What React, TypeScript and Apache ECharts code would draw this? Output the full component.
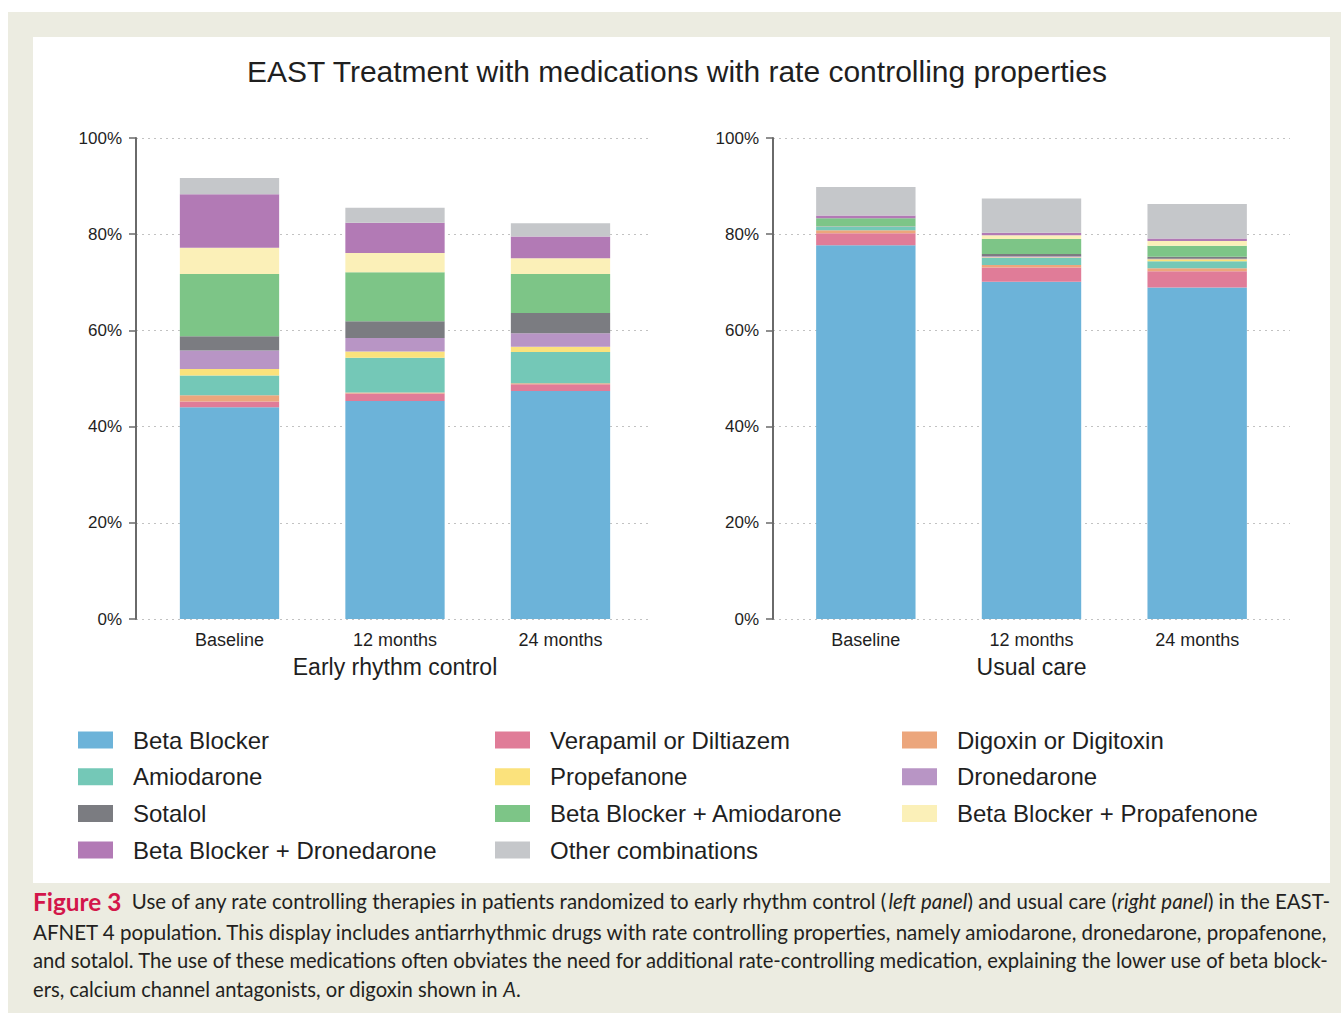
import React, { useEffect, useRef } from "react";
import * as echarts from "echarts";

// ---- Data -----------------------------------------------------------------
const categories = ["Baseline", "12 months", "24 months"];
const panelNames = ["Early rhythm control", "Usual care"];
const yTicks = [0, 20, 40, 60, 80, 100];

const medications = [
  "Beta Blocker",
  "Verapamil or Diltiazem",
  "Digoxin or Digitoxin",
  "Amiodarone",
  "Propefanone",
  "Dronedarone",
  "Sotalol",
  "Beta Blocker + Amiodarone",
  "Beta Blocker + Propafenone",
  "Beta Blocker + Dronedarone",
  "Other combinations",
];

// Early rhythm control, % of patients (Baseline, 12 months, 24 months)
const erBetaBlocker = [44.0, 45.3, 47.4];
const erVerapamil = [1.2, 1.6, 1.4];
const erDigoxin = [1.3, 0.2, 0.2];
const erAmiodarone = [4.1, 7.2, 6.5];
const erPropafenone = [1.4, 1.3, 1.1];
const erDronedarone = [3.8, 2.8, 2.8];
const erSotalol = [3.0, 3.5, 4.2];
const erBBAmiodarone = [12.9, 10.2, 8.1];
const erBBPropafenone = [5.5, 4.0, 3.3];
const erBBDronedarone = [11.1, 6.3, 4.5];
const erOther = [3.4, 3.1, 2.8];

// Usual care, % of patients (Baseline, 12 months, 24 months)
const ucBetaBlocker = [77.7, 70.1, 68.9];
const ucVerapamil = [2.5, 3.0, 3.4];
const ucDigoxin = [0.6, 0.5, 0.6];
const ucAmiodarone = [0.7, 1.5, 1.5];
const ucPropafenone = [0.0, 0.1, 0.4];
const ucDronedarone = [0.1, 0.2, 0.1];
const ucSotalol = [0.0, 0.5, 0.4];
const ucBBAmiodarone = [1.7, 3.1, 2.3];
const ucBBPropafenone = [0.0, 0.8, 1.0];
const ucBBDronedarone = [0.6, 0.5, 0.5];
const ucOther = [5.9, 7.1, 7.2];

const earlyValues = [
  erBetaBlocker, erVerapamil, erDigoxin, erAmiodarone, erPropafenone, erDronedarone,
  erSotalol, erBBAmiodarone, erBBPropafenone, erBBDronedarone, erOther,
];
const usualValues = [
  ucBetaBlocker, ucVerapamil, ucDigoxin, ucAmiodarone, ucPropafenone, ucDronedarone,
  ucSotalol, ucBBAmiodarone, ucBBPropafenone, ucBBDronedarone, ucOther,
];

const medColors = [
  "#6cb3d9", "#e07c98", "#eca67c", "#74c8b7", "#fbe27c", "#b895c5",
  "#7b7c81", "#7dc587", "#fbf0b8", "#b27ab5", "#c5c7ca",
];

// Legend columns (indices into medications)
const legendColumns = [
  [0, 3, 6, 9],
  [1, 4, 7, 10],
  [2, 5, 8],
];

const chartTitle = "EAST Treatment with medications with rate controlling properties";

type Seg = { t: string; s: "fig" | "n" | "i" };
const captionLines: Seg[][] = [
  [
    { t: "Figure 3", s: "fig" },
    { t: "  Use of any rate controlling therapies in patients randomized to early rhythm control (", s: "n" },
    { t: "left panel", s: "i" },
    { t: ") and usual care (", s: "n" },
    { t: "right panel", s: "i" },
    { t: ") in the EAST-", s: "n" },
  ],
  [{ t: "AFNET 4 population. This display includes antiarrhythmic drugs with rate controlling properties, namely amiodarone, dronedarone, propafenone,", s: "n" }],
  [{ t: "and sotalol. The use of these medications often obviates the need for additional rate-controlling medication, explaining the lower use of beta block-", s: "n" }],
  [
    { t: "ers, calcium channel antagonists, or digoxin shown in ", s: "n" },
    { t: "A", s: "i" },
    { t: ".", s: "n" },
  ],
];

// ---- Styling helpers --------------------------------------------------------
const SANS = "Liberation Sans, Arial, sans-serif";
const INK = "#1f1f1f";
const CAPTION_FONT = "Lato";
const captionRich: Record<string, any> = {
  fig: { fontFamily: CAPTION_FONT, fontWeight: "bold", fontSize: 25, fill: "#d3164a" },
  n: { fontFamily: CAPTION_FONT, fontWeight: "normal", fontSize: 21, fill: "#231f20" },
  i: { fontFamily: CAPTION_FONT, fontWeight: "normal", fontStyle: "italic", fontSize: 21, fill: "#231f20" },
};

function measureLine(line: Seg[]): number {
  const ctx = document.createElement("canvas").getContext("2d");
  if (!ctx) return 1;
  let w = 0;
  for (const seg of line) {
    const r = captionRich[seg.s];
    ctx.font = `${r.fontStyle || "normal"} ${r.fontWeight} ${r.fontSize}px ${r.fontFamily}`;
    w += ctx.measureText(seg.t).width;
  }
  return w;
}

function buildCaption(): any[] {
  const left = 33;
  const right = 1330;
  const ys = [901, 931, 960, 989];
  const target = right - left;
  const scales = captionLines.map((l) => target / measureLine(l));
  return captionLines.map((line, k) => {
    const last = k === captionLines.length - 1;
    const sx = last ? Math.min(scales[1], scales[2]) : scales[k];
    return {
      type: "text",
      x: left,
      y: ys[k],
      scaleX: sx,
      style: {
        text: line.map((seg) => `{${seg.s}|${seg.t}}`).join(""),
        rich: captionRich,
        verticalAlign: "middle",
        align: "left",
      },
    };
  });
}

function buildOption(): echarts.EChartsCoreOption {
  const barGrids = [
    { left: 146.75, top: 138, width: 496.5, height: 481 },
    { left: 783, top: 138, width: 497, height: 481 },
  ];
  const lineGrids = [
    { left: 136, top: 138, width: 516, height: 481 },
    { left: 773, top: 138, width: 517, height: 481 },
  ];
  const offsets = [10.75, 10];

  const xAxis: any[] = [0, 1].map((p) => ({
    type: "category",
    gridIndex: p,
    data: categories,
    axisLine: { show: false },
    axisTick: { show: false },
    axisLabel: { margin: 12, fontSize: 18, color: INK, fontFamily: SANS },
    name: panelNames[p],
    nameLocation: "middle",
    nameGap: 36,
    nameTextStyle: { fontSize: 23, color: INK, fontFamily: SANS },
  }));
  [2, 3].forEach((g) => xAxis.push({ type: "value", gridIndex: g, show: false, min: 0, max: 1 }));

  const yAxis: any[] = [0, 1].map((p) => ({
    type: "value",
    gridIndex: p,
    min: yTicks[0],
    max: yTicks[yTicks.length - 1],
    interval: 20,
    offset: offsets[p],
    axisLine: { show: true, lineStyle: { color: "#6a6a6a", width: 2 } },
    axisTick: { show: true, length: 7, lineStyle: { color: "#6a6a6a", width: 1.5 } },
    axisLabel: { formatter: "{value}%", margin: 14, fontSize: 17, color: INK, fontFamily: SANS },
    splitLine: { show: false },
  }));
  [2, 3].forEach((g) =>
    yAxis.push({
      type: "value",
      gridIndex: g,
      min: yTicks[0],
      max: yTicks[yTicks.length - 1],
      interval: 20,
      axisLine: { show: false },
      axisTick: { show: false },
      axisLabel: { show: false },
      splitLine: { show: true, lineStyle: { type: [2, 4], color: "#c2c2c2", width: 1.2 } },
    })
  );

  const series: any[] = [];
  [earlyValues, usualValues].forEach((panel, p) => {
    panel.forEach((vals, i) => {
      series.push({
        name: medications[i],
        type: "bar",
        stack: p === 0 ? "early" : "usual",
        xAxisIndex: p,
        yAxisIndex: p,
        barWidth: "60%",
        data: vals,
        itemStyle: { color: medColors[i] },
      });
    });
  });

  const legendX = [73, 490, 897];
  const legend = legendColumns.map((col, c) => ({
    orient: "vertical",
    left: legendX[c],
    top: 723,
    itemWidth: 35,
    itemHeight: 17,
    itemGap: 12.7,
    icon: "rect",
    data: col.map((i) => medications[i]),
    selectedMode: false,
    textStyle: {
      fontSize: 24,
      lineHeight: 24,
      color: INK,
      fontFamily: SANS,
      padding: [0, 0, 0, 15],
    },
  }));

  return {
    animation: false,
    title: {
      text: chartTitle,
      left: 672,
      top: 51,
      textAlign: "center",
      textStyle: { fontSize: 30, fontWeight: "normal", color: INK, fontFamily: SANS },
    },
    grid: [...barGrids, ...lineGrids],
    xAxis,
    yAxis,
    legend,
    series,
    graphic: buildCaption(),
  };
}

export default function App() {
  const ref = useRef<HTMLDivElement>(null);

  useEffect(() => {
    if (!ref.current) return;
    const chart = echarts.init(ref.current, undefined, { renderer: "svg" });
    chart.setOption(buildOption());
    return () => chart.dispose();
  }, []);

  return (
    <div style={{ position: "fixed", left: 0, top: 0, width: 1341, height: 1021, background: "#ffffff", overflow: "hidden" }}>
      <div style={{ position: "absolute", left: 8, top: 12, width: 1333, height: 1001, background: "#ecece1" }} />
      <div style={{ position: "absolute", left: 33, top: 37, width: 1297, height: 846, background: "#ffffff" }} />
      <div ref={ref} style={{ position: "absolute", left: 0, top: 0, width: 1341, height: 1021 }} />
    </div>
  );
}
